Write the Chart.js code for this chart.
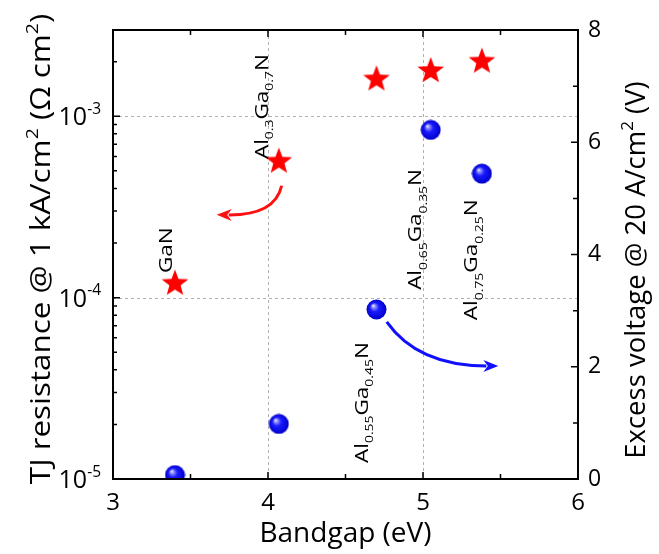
<!DOCTYPE html>
<html>
<head>
<meta charset="utf-8">
<script src="https://cdn.jsdelivr.net/npm/chart.js@4.4.1/dist/chart.umd.min.js"></script>
<style>
  body { margin: 0; background: #fff; }
  #wrap { width: 659px; height: 554px; }
</style>
</head>
<body>
<div id="wrap"><canvas id="tjChart"></canvas></div>
<script>
// ---- data ----
const bandgap = [3.40, 4.07, 4.70, 5.05, 5.38];          // eV
const tjResistance = [1.21e-4, 5.7e-4, 1.62e-3, 1.80e-3, 2.03e-3]; // Ohm cm^2 (left, log)
const excessVoltage = [0.07, 0.98, 3.02, 6.22, 5.44];     // V (right)

const xTicks = [3, 4, 5, 6];
const leftTicks = [-5, -4, -3];      // exponents of 10
const rightTicks = [0, 2, 4, 6, 8];

// composition labels, anchored at (bandgap, volts on right axis), rotated
const compLabels = [
  [['GaN']],
  [['Al'], ['0.3', 'sub'], ['Ga'], ['0.7', 'sub'], ['N']],
  [['Al'], ['0.65', 'sub'], ['Ga'], ['0.35', 'sub'], ['N']],
  [['Al'], ['0.75', 'sub'], ['Ga'], ['0.25', 'sub'], ['N']],
  [['Al'], ['0.55', 'sub'], ['Ga'], ['0.45', 'sub'], ['N']]
];
const compLabelX = [3.38, 4.00, 4.99, 5.35, 4.645];
const compLabelV = [3.67, 5.70, 3.37, 2.83, 0.285];

// arrows: start, control, tip
const redArrowX = [4.088, 4.045, 3.669];
const redArrowR = [4.14e-4, 2.85e-4, 2.86e-4];   // left axis
const blueArrowX = [4.766, 4.965, 5.486];
const blueArrowV = [2.80, 2.02, 2.013];           // right axis

const FONT = '"Open Sans", "DejaVu Sans", sans-serif';

/* =========================
   MARKER IMAGES
========================= */
function makeStar(size) {
  const c = document.createElement('canvas');
  c.width = c.height = size;
  const g = c.getContext('2d');
  const cx = size / 2, cy = size / 2 + 1, ro = size / 2 - 1, ri = ro * 0.42;
  g.beginPath();
  for (let i = 0; i < 10; i++) {
    const r = i % 2 ? ri : ro;
    const a = -Math.PI / 2 + i * Math.PI / 5;
    g.lineTo(cx + r * Math.cos(a), cy + r * Math.sin(a));
  }
  g.closePath();
  g.fillStyle = '#ff0000';
  g.fill();
  return c;
}

function makeBall(size) {
  const c = document.createElement('canvas');
  c.width = c.height = size;
  const g = c.getContext('2d');
  const r = size / 2 - 0.5;
  const grad = g.createRadialGradient(size / 2 - r * 0.35, size / 2 - r * 0.4, 0, size / 2, size / 2, r);
  grad.addColorStop(0, '#ffffff');
  grad.addColorStop(0.18, '#9090ff');
  grad.addColorStop(0.45, '#1a1aff');
  grad.addColorStop(1, '#0000c8');
  g.beginPath();
  g.arc(size / 2, size / 2, r, 0, Math.PI * 2);
  g.fillStyle = grad;
  g.fill();
  return c;
}

/* =========================
   TEXT HELPER (sub / sup)
   stretch scales along the text direction
========================= */
function drawRich(ctx, parts, x, y, rot, size, align, stretch) {
  ctx.save();
  ctx.translate(x, y);
  ctx.rotate(rot);
  ctx.scale(stretch || 1, 1);
  ctx.textBaseline = 'alphabetic';
  ctx.textAlign = 'left';
  let total = 0;
  parts.forEach(p => {
    ctx.font = (p[1] ? size * 0.62 : size) + 'px ' + FONT;
    total += ctx.measureText(p[0]).width;
  });
  let cx = align === 'center' ? -total / 2 : align === 'right' ? -total : 0;
  parts.forEach(p => {
    const fs = p[1] ? size * 0.62 : size;
    ctx.font = fs + 'px ' + FONT;
    const dy = p[1] === 'sub' ? size * 0.3 : p[1] === 'sup' ? -size * 0.45 : 0;
    ctx.fillText(p[0], cx, dy);
    cx += ctx.measureText(p[0]).width;
  });
  ctx.restore();
}

function drawArrow(ctx, pts, color) {
  const [p0, c, p2] = pts;
  const ang = Math.atan2(p2.y - c.y, p2.x - c.x);
  const headLen = 15, headW = 6;
  const bx = p2.x - headLen * 0.8 * Math.cos(ang), by = p2.y - headLen * 0.8 * Math.sin(ang);
  ctx.save();
  ctx.strokeStyle = color;
  ctx.fillStyle = color;
  ctx.lineWidth = 3;
  ctx.beginPath();
  ctx.moveTo(p0.x, p0.y);
  ctx.quadraticCurveTo(c.x, c.y, bx, by);
  ctx.stroke();
  ctx.beginPath();
  ctx.moveTo(p2.x, p2.y);
  ctx.lineTo(p2.x - headLen * Math.cos(ang) + headW * Math.sin(ang), p2.y - headLen * Math.sin(ang) - headW * Math.cos(ang));
  ctx.lineTo(p2.x - headLen * 0.7 * Math.cos(ang), p2.y - headLen * 0.7 * Math.sin(ang));
  ctx.lineTo(p2.x - headLen * Math.cos(ang) - headW * Math.sin(ang), p2.y - headLen * Math.sin(ang) + headW * Math.cos(ang));
  ctx.closePath();
  ctx.fill();
  ctx.restore();
}

/* =========================
   PLUGINS
========================= */
const gridPlugin = {
  id: 'dashGrid',
  beforeDatasetsDraw(chart) {
    const { ctx, chartArea: a, scales } = chart;
    ctx.save();
    ctx.strokeStyle = '#b0b0b0';
    ctx.lineWidth = 1;
    ctx.setLineDash([3, 3]);
    [4, 5].forEach(v => {
      const px = Math.round(scales.x.getPixelForValue(v)) + 0.5;
      ctx.beginPath(); ctx.moveTo(px, a.top); ctx.lineTo(px, a.bottom); ctx.stroke();
    });
    [1e-4, 1e-3].forEach(v => {
      const py = Math.round(scales.y.getPixelForValue(v)) + 0.5;
      ctx.beginPath(); ctx.moveTo(a.left, py); ctx.lineTo(a.right, py); ctx.stroke();
    });
    ctx.restore();
  }
};

const framePlugin = {
  id: 'frame',
  afterDraw(chart) {
    const { ctx, chartArea: a, scales } = chart;
    const sx = scales.x, sy = scales.y, sr = scales.y2;

    // arrows
    drawArrow(ctx, redArrowX.map((x, i) => ({ x: sx.getPixelForValue(x), y: sy.getPixelForValue(redArrowR[i]) })), '#ff1010');
    drawArrow(ctx, blueArrowX.map((x, i) => ({ x: sx.getPixelForValue(x), y: sr.getPixelForValue(blueArrowV[i]) })), '#1010ff');

    // composition labels
    ctx.fillStyle = '#000';
    compLabels.forEach((parts, i) => {
      drawRich(ctx, parts, sx.getPixelForValue(compLabelX[i]), sr.getPixelForValue(compLabelV[i]), -Math.PI / 2, 18, 'left', 1.25);
    });

    // frame
    ctx.save();
    ctx.strokeStyle = '#000';
    ctx.lineWidth = 2;
    ctx.strokeRect(a.left, a.top, a.right - a.left, a.bottom - a.top);

    // ticks (inward)
    ctx.lineWidth = 1.5;
    ctx.beginPath();
    for (let v = 3; v <= 6.001; v += 0.5) {
      const px = sx.getPixelForValue(v);
      const len = Number.isInteger(v) ? 7 : 5;
      ctx.moveTo(px, a.bottom); ctx.lineTo(px, a.bottom - len);
      ctx.moveTo(px, a.top); ctx.lineTo(px, a.top + len);
    }
    for (let e = -5; e <= -3; e++) {
      for (let m = 1; m <= 9; m++) {
        const v = m * Math.pow(10, e);
        if (v > sy.max) continue;
        const py = sy.getPixelForValue(v);
        const len = m === 1 ? 7 : 4;
        ctx.moveTo(a.left, py); ctx.lineTo(a.left + len, py);
      }
    }
    for (let v = 0; v <= 8; v++) {
      const py = sr.getPixelForValue(v);
      const len = v % 2 === 0 ? 7 : 5;
      ctx.moveTo(a.right, py); ctx.lineTo(a.right - len, py);
    }
    ctx.stroke();
    ctx.restore();

    // tick labels
    ctx.save();
    ctx.fillStyle = '#000';
    ctx.textAlign = 'center';
    ctx.textBaseline = 'alphabetic';
    ctx.font = '24px ' + FONT;
    xTicks.forEach(v => ctx.fillText(String(v), sx.getPixelForValue(v), a.bottom + 31));
    ctx.textAlign = 'left';
    ctx.textBaseline = 'middle';
    ctx.font = '23px ' + FONT;
    rightTicks.forEach(v => ctx.fillText(String(v), a.right + 10, sr.getPixelForValue(v)));
    ctx.restore();
    leftTicks.forEach(e => {
      drawRich(ctx, [['10'], [String(e), 'sup']], a.left - 12, sy.getPixelForValue(Math.pow(10, e)) + 9, 0, 25, 'right');
    });

    // axis titles
    drawRich(ctx, [['Bandgap (eV)']], (a.left + a.right) / 2, 542, 0, 28, 'center');
    drawRich(ctx, [['TJ resistance @ 1 kA/cm'], ['2', 'sup'], [' (\u03A9 cm'], ['2', 'sup'], [')']],
      50, 249, -Math.PI / 2, 27.5, 'center', 1.14);
    drawRich(ctx, [['Excess voltage @ 20 A/cm'], ['2', 'sup'], [' (V)']],
      645, 270, -Math.PI / 2, 27.5, 'center', 1.0);
  }
};

/* =========================
   CHART
========================= */
const starImg = makeStar(30);
const ballImg = makeBall(21);

const ctx = document.getElementById('tjChart').getContext('2d');
new Chart(ctx, {
  type: 'scatter',
  data: {
    datasets: [
      {
        label: 'TJ resistance',
        data: bandgap.map((x, i) => ({ x, y: tjResistance[i] })),
        xAxisID: 'x',
        yAxisID: 'y',
        pointStyle: starImg,
        pointRadius: 15
      },
      {
        label: 'Excess voltage',
        data: bandgap.map((x, i) => ({ x, y: excessVoltage[i] })),
        xAxisID: 'x',
        yAxisID: 'y2',
        pointStyle: ballImg,
        pointRadius: 10
      }
    ]
  },
  options: {
    responsive: true,
    maintainAspectRatio: false,
    animation: false,
    layout: { padding: { top: 30, left: 0, right: 0, bottom: 0 } },
    plugins: { legend: { display: false }, tooltip: { enabled: false } },
    scales: {
      x: {
        type: 'linear', position: 'bottom', min: 3, max: 6,
        grid: { display: false }, border: { display: false },
        ticks: { display: false },
        afterFit: s => { s.height = 75; }
      },
      y: {
        type: 'logarithmic', position: 'left', min: 1e-5, max: 2.99e-3,
        grid: { display: false }, border: { display: false },
        ticks: { display: false },
        afterFit: s => { s.width = 113; }
      },
      y2: {
        type: 'linear', position: 'right', min: 0, max: 8,
        grid: { display: false }, border: { display: false },
        ticks: { display: false },
        afterFit: s => { s.width = 81; }
      }
    }
  },
  plugins: [gridPlugin, framePlugin]
});
</script>
</body>
</html>
